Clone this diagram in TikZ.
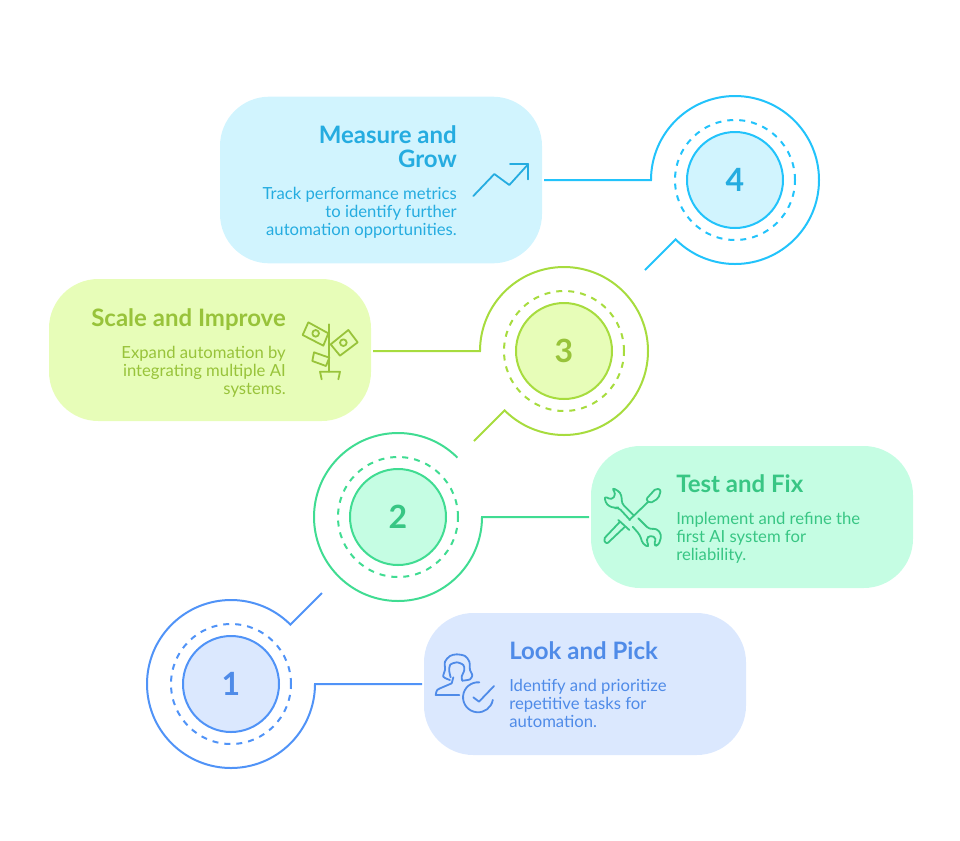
\documentclass[tikz,border=0pt]{standalone}
\usepackage{fontspec}
\setmainfont{Lato}
\definecolor{bluestroke}{HTML}{5093F7}
\definecolor{bluefill}{HTML}{DBE8FE}
\definecolor{bluetext}{HTML}{4F8BE8}
\definecolor{greenstroke}{HTML}{40DC92}
\definecolor{greenfill}{HTML}{C5FDE3}
\definecolor{greentext}{HTML}{38C684}
\definecolor{limestroke}{HTML}{A7DC3E}
\definecolor{limefill}{HTML}{E7FDB8}
\definecolor{limetext}{HTML}{98C33A}
\definecolor{skystroke}{HTML}{22C3FB}
\definecolor{skyfill}{HTML}{D1F4FE}
\definecolor{skytext}{HTML}{25ACE0}
\tikzstyle{cardbox}=[rounded corners=37pt,minimum width=241.5pt,inner sep=0pt,outer sep=1.5pt]
\tikzstyle{disc}=[circle,draw,line width=1.5pt,minimum size=72pt,inner sep=0pt,font=\fontsize{24}{24}\selectfont\bfseries]
\tikzstyle{ring}=[circle,draw,line width=1.5pt,minimum size=90pt,inner sep=0pt,dash pattern=on 4.5pt off 4.5pt]
\tikzstyle{link}=[line width=1.5pt,line join=miter]
\tikzstyle{titre}=[inner sep=0pt,font=\fontsize{18}{18}\selectfont\bfseries]
\tikzstyle{corps}=[inner sep=0pt,font=\fontsize{12.5}{13.5}\selectfont]
\tikzstyle{icon}=[line width=1.35pt,line join=round,line cap=round]
\begin{document}
\begin{tikzpicture}[x=.75pt,y=-.75pt]
    \useasboundingbox (0,0) rectangle (960,840);
    % cards
    \node [cardbox,fill=bluefill,minimum height=106.5pt] (box1) at (585,684) {};
    \node [cardbox,fill=greenfill,minimum height=106.5pt] (box2) at (752,517) {};
    \node [cardbox,fill=limefill,minimum height=106.5pt] (box3) at (210,350) {};
    \node [cardbox,fill=skyfill,minimum height=125pt] (box4) at (381,180) {};
    % numbered circles
    \node [ring,color=bluestroke] (ring1) at (231,684) {};
    \node [disc,draw=bluestroke,fill=bluefill,text=bluetext] (num1) at (231,684) {1};
    \node [ring,color=greenstroke] (ring2) at (398,517) {};
    \node [disc,draw=greenstroke,fill=greenfill,text=greentext] (num2) at (398,517) {2};
    \node [ring,color=limestroke] (ring3) at (564,351) {};
    \node [disc,draw=limestroke,fill=limefill,text=limetext] (num3) at (564,351) {3};
    \node [ring,color=skystroke] (ring4) at (735,180) {};
    \node [disc,draw=skystroke,fill=skyfill,text=skytext] (num4) at (735,180) {4};
    % connectors
    \coordinate (tail1) at (322,593);
    \coordinate (bend1) at (290.4,624.6);
    \coordinate (start2) at (457.4,457.6);
    \coordinate (knee3) at (480,351);
    \coordinate (tail3) at (474,441);
    \coordinate (knee4) at (651,180);
    \coordinate (tail4) at (645,270);
    \draw [link,bluestroke] (tail1) -- (bend1) arc [start angle=45,end angle=360,radius=63pt] -- (box1.west);
    \draw [link,greenstroke] (start2) arc [start angle=45,end angle=360,radius=63pt] -- (box2.west);
    \draw [link,limestroke] (box3.east |- knee3) -- (knee3) arc [start angle=180,end angle=-135,radius=63pt] -- (tail3);
    \draw [link,skystroke] (box4.east) -- (knee4) arc [start angle=180,end angle=-135,radius=63pt] -- (tail4);
    % texts
    \node [titre,anchor=north west,text=bluetext] (title1) at (509,641) {Look and Pick};
    \node [corps,anchor=north west,align=left,text=bluetext] (body1) at (509,679) {Identify and prioritize\\repetitive tasks for\\automation.};
    \node [titre,anchor=north west,text=greentext] (title2) at (676,474) {Test and Fix};
    \node [corps,anchor=north west,align=left,text=greentext] (body2) at (676,512) {Implement and refine the\\first AI system for\\reliability.};
    \node [titre,anchor=north east,text=limetext] (title3) at (286,308) {Scale and Improve};
    \node [corps,anchor=north east,align=right,text=limetext] (body3) at (286,346) {Expand automation by\\integrating multiple AI\\systems.};
    \node [titre,anchor=north east,align=right,text=skytext] (title4) at (457,125) {Measure and\\Grow};
    \node [corps,anchor=north east,align=right,text=skytext] (body4) at (457,187) {Track performance metrics\\to identify further\\automation opportunities.};
    % person with check
    \begin{scope}[shift={(420,620)},x=.25pt,y=-.25pt,icon,bluetext]
        \draw plot [smooth] coordinates {(90,180) (70,170) (75,150) (75,125) (90,108) (110,103) (135,108) (148,125) (150,150) (157,165) (150,178) (127,182)};
        \draw plot [smooth] coordinates {(92,172) (88,155) (90,135) (110,127) (130,135) (133,150) (125,170) (127,182)};
        \draw (100,172) -- (95,190) -- (60,205) .. controls (50,210) .. (47,225) -- (118,225);
        \draw (178,187) arc [start angle=85,end angle=350,radius=11.25pt];
        \draw (160,232) -- (177,245) -- (222,198);
    \end{scope}
    % wrench and screwdriver
    \begin{scope}[shift={(590,470)},x=.25pt,y=-.25pt,icon,greentext]
        \draw [rounded corners=1.5pt] (168,88) -- (198,55) -- (213,60) -- (205,85) -- (180,100) -- cycle;
        \draw (175,95) -- (118,150);
        \draw (85,150) -- (118,180);
        \draw [rounded corners=1.5pt] (90,155) -- (40,208) -- (50,222) -- (105,170);
        \draw [rounded corners=2.5pt] (130,135) -- (95,100) -- (95,75) -- (85,62) -- (65,53) -- (78,72) -- (65,90) -- (42,78) -- (50,105) -- (75,115) -- (85,112) -- (120,150);
        \draw [rounded corners=2.5pt] (145,145) -- (178,178) -- (200,175) -- (215,195) -- (205,228) -- (190,225) -- (200,205) -- (180,195) -- (168,208) -- (178,232) -- (158,222) -- (150,195) -- (128,170);
    \end{scope}
    % money plant
    \begin{scope}[shift={(290,310)},x=.25pt,y=-.25pt,icon,limetext]
        \draw (118,43) -- (118,185);
        \draw (95,208) -- (90,185) -- (150,185) -- (145,208);
        \draw (55,37) -- (115,70) -- (100,107) -- (38,75) -- cycle;
        \draw (77,70) circle [radius=2.5pt];
        \draw (175,60) -- (203,97) -- (150,137) -- (122,103) -- cycle;
        \draw (160,98) circle [radius=2.5pt];
        \draw (72,127) -- (118,143) -- (108,168) -- (67,153) -- cycle;
    \end{scope}
    % chart arrow
    \begin{scope}[shift={(460,90)},x=.25pt,y=-.25pt,icon,skytext]
        \draw (40,318) -- (103,252) -- (148,285) -- (205,222);
        \draw (150,222) -- (205,222) -- (205,268);
    \end{scope}
\end{tikzpicture}
\end{document}
